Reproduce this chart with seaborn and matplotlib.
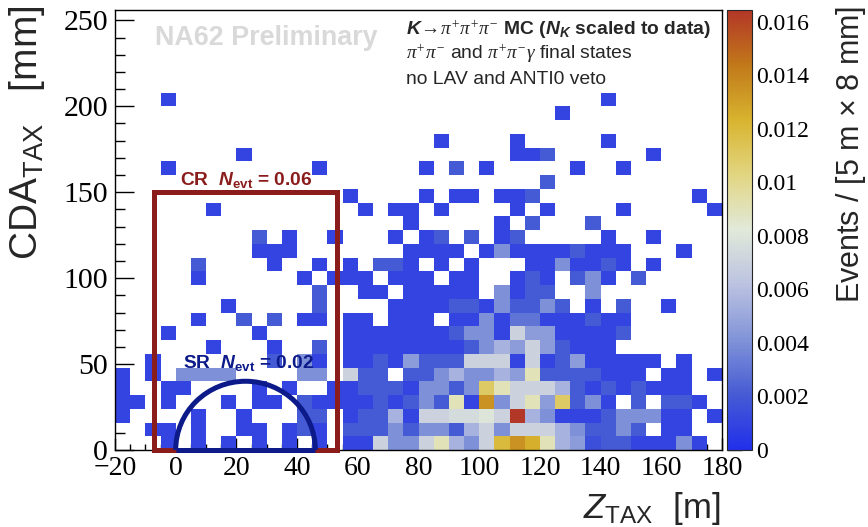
import numpy as np
import pandas as pd
import seaborn as sns
import matplotlib.pyplot as plt
import matplotlib.ticker as ticker
from matplotlib.colors import LinearSegmentedColormap
from matplotlib.patches import Rectangle, Arc

# bin contents, units of 1e-4 events; row index = CDA bin (8 mm) from 0, column = Z bin (5 m) from -20 m
w_rows = [
    [0,0,0,10,0,10,0,10,0,10,0,10,0,10,0,10,10,70,40,40,70,90,55,40,70,120,135,125,90,55,45,15,20,20,10,10,10,40,10,0],
    [0,0,10,10,0,10,0,0,10,10,0,10,20,10,0,20,20,20,40,20,40,40,20,55,70,40,70,70,70,55,40,20,20,40,20,0,10,10,0,0],
    [10,0,0,0,0,10,0,0,10,0,0,0,20,20,0,10,20,20,55,10,70,70,75,75,80,70,164,55,40,10,10,10,20,40,40,40,10,10,0,10],
    [10,10,0,10,0,0,0,10,0,10,10,0,20,10,10,10,10,20,10,20,40,20,90,10,135,40,70,90,45,110,20,40,10,0,20,0,20,20,10,0],
    [10,0,0,10,10,0,0,0,0,10,0,10,0,0,10,10,20,20,20,10,40,40,20,40,110,90,70,70,70,55,20,10,20,10,20,10,10,10,0,0],
    [10,0,10,0,40,40,40,40,0,0,0,0,40,40,0,70,20,20,0,20,20,40,55,40,40,55,45,90,20,20,20,20,10,10,10,0,10,10,0,10],
    [0,0,10,0,0,0,0,0,0,0,20,0,40,10,0,10,10,20,10,45,20,20,20,70,70,70,10,70,10,20,45,10,10,10,10,10,0,10,0,0],
    [0,0,0,0,0,0,10,0,0,0,10,0,0,20,0,10,10,10,10,10,10,10,10,20,40,55,45,70,45,20,10,10,10,0,0,0,0,0,0,0],
    [0,0,0,10,0,0,0,0,0,10,0,0,0,0,0,10,10,10,10,10,10,10,20,40,40,10,70,45,45,10,10,10,10,20,0,0,0,0,0,0],
    [0,0,0,0,0,10,0,0,20,0,20,0,10,10,0,10,10,0,10,10,10,0,10,10,40,10,30,30,10,10,10,20,10,10,0,0,0,0,0,0],
    [0,0,0,0,0,0,0,10,0,0,0,0,0,20,0,0,0,0,10,10,10,10,20,20,10,40,20,20,40,20,0,10,0,20,0,0,10,0,0,0],
    [0,0,0,0,0,0,0,0,0,0,0,0,0,20,0,0,10,10,0,10,10,10,10,10,0,40,10,20,20,0,0,40,0,0,0,0,0,0,0,0],
    [0,0,0,0,0,10,0,0,0,0,0,0,10,0,10,10,10,0,10,10,10,0,10,10,0,0,10,20,10,0,20,40,10,0,20,0,0,0,0,0],
    [0,0,0,0,0,20,0,0,0,0,10,0,0,10,0,10,0,20,20,10,0,10,0,10,0,0,0,10,10,40,10,10,20,10,0,10,0,0,0,0],
    [0,0,0,0,0,0,0,0,0,10,10,10,0,0,0,0,0,0,0,10,10,10,10,0,10,40,10,10,10,10,20,10,10,10,0,0,0,10,0,0],
    [0,0,0,0,0,0,0,0,0,20,0,10,0,0,10,0,0,0,10,0,10,20,0,20,0,10,20,0,0,0,0,0,10,0,0,10,0,0,0,0],
    [0,0,0,0,0,0,0,0,0,0,0,0,0,0,0,0,0,0,0,10,0,0,0,0,0,10,0,20,0,0,0,20,0,0,0,0,0,0,0,0],
    [0,0,0,0,0,0,10,0,0,0,0,0,0,0,0,0,10,0,10,10,0,10,0,0,0,0,10,0,10,0,0,0,0,10,0,0,0,0,0,10],
    [0,0,0,0,0,0,0,0,0,0,0,0,0,0,0,10,0,0,0,0,10,0,10,10,0,10,10,20,0,0,0,0,0,0,0,0,0,0,10,0],
    [0,0,0,0,0,0,0,0,0,0,0,0,0,0,0,0,0,0,0,0,0,0,0,0,0,0,0,0,20,0,0,0,0,0,0,0,0,0,0,0],
    [0,0,0,10,0,0,0,0,0,0,0,0,0,10,0,0,0,0,0,0,10,0,20,0,10,0,0,0,0,0,10,0,0,10,0,0,0,0,0,0],
    [0,0,0,0,0,0,0,0,10,0,0,0,0,0,0,0,0,0,0,0,0,0,0,0,0,0,10,10,20,0,0,0,0,0,0,10,0,0,0,0],
    [0,0,0,0,0,0,0,0,0,0,0,0,0,0,0,0,0,0,0,0,0,10,0,0,0,0,10,0,0,0,0,0,10,0,0,0,0,0,0,0],
    [0]*40,
    [0,0,0,0,0,0,0,0,0,0,0,0,0,0,0,0,0,0,0,0,0,0,0,0,0,0,0,0,0,10,0,0,0,0,0,0,0,0,0,0],
    [0,0,0,10,0,0,0,0,0,0,0,0,0,0,0,0,0,0,0,0,0,0,0,0,0,0,0,0,0,0,0,0,10,0,0,0,0,0,0,0],
    [0]*40, [0]*40, [0]*40, [0]*40, [0]*40, [0]*40,
]
z_low, z_width = -20, 5
cda_width = 8
z_max, cda_max = 180, 256
w_max = 0.01644
cbar_ticks = [0, 0.002, 0.004, 0.006, 0.008, 0.01, 0.012, 0.014, 0.016]

# ROOT kTemperatureMap
temp_colors = [(34, 48, 234), (70, 91, 212), (129, 147, 216), (187, 194, 225), (225, 233, 218),
               (226, 214, 130), (216, 180, 47), (193, 121, 26), (179, 55, 39)]
cmap = LinearSegmentedColormap.from_list('temp', [tuple(c / 255 for c in rgb) for rgb in temp_colors])

recs = []
for j, row in enumerate(w_rows):
    for i, w in enumerate(row):
        if w > 0:
            recs.append((z_low + z_width * (i + 0.5), cda_width * (j + 0.5), w * 1e-4))
df = pd.DataFrame(recs, columns=['z', 'cda', 'w'])

sns.set_style('ticks')
plt.rcParams['font.family'] = ['Liberation Serif', 'DejaVu Serif']
plt.rcParams['mathtext.fontset'] = 'custom'
plt.rcParams['mathtext.rm'] = 'Liberation Sans'
plt.rcParams['mathtext.it'] = 'Liberation Sans:italic'
plt.rcParams['mathtext.bf'] = 'Liberation Sans:bold'
plt.rcParams['mathtext.bfit'] = 'Liberation Sans:italic:bold'
plt.rcParams['mathtext.sf'] = 'Liberation Serif:italic'
plt.rcParams['axes.unicode_minus'] = True

W, H = 868, 527
fig = plt.figure(figsize=(W / 100, H / 100), dpi=100)
ax = fig.add_axes([115 / W, 1 - 450 / H, (722 - 115) / W, 440 / H])
cax = fig.add_axes([727 / W, 1 - 450 / H, 25 / W, 440 / H])

sns.histplot(data=df, x='z', y='cda', weights='w', binwidth=(z_width, cda_width),
             binrange=((z_low, z_max), (0, cda_max)), cmap=cmap, vmin=0, vmax=w_max,
             cbar=True, cbar_ax=cax, ax=ax)

ax.set_xlim(z_low, z_max)
ax.set_ylim(0, cda_max)
ax.set_xlabel('')
ax.set_ylabel('')
ax.xaxis.set_major_locator(ticker.MultipleLocator(20))
ax.xaxis.set_minor_locator(ticker.MultipleLocator(5))
ax.yaxis.set_major_locator(ticker.MultipleLocator(50))
ax.yaxis.set_minor_locator(ticker.MultipleLocator(10))
ax.tick_params(axis='both', which='both', direction='in', top=False, right=False,
               colors='black', width=1)
ax.tick_params(axis='y', which='major', length=14, pad=5, labelsize=21.5)
ax.tick_params(axis='y', which='minor', length=7)
ax.tick_params(axis='x', which='major', length=9, pad=4, labelsize=20)
ax.tick_params(axis='x', which='minor', length=4.5)
for s in ax.spines.values():
    s.set_linewidth(1)
    s.set_color('black')

# control region box and signal region half-ellipse
cr_col = '#8b1c1c'
sr_col = '#0c1a8a'
ax.add_patch(Rectangle((-7, 0), 60, 150, fill=False, ec=cr_col, lw=3.6, zorder=5, clip_on=False))
ax.add_patch(Arc((23, 0), 46, 80, theta1=0, theta2=180, color=sr_col, lw=3.6, zorder=5))
ax.plot([0, 46], [0, 0], color=sr_col, lw=3.6, zorder=5, clip_on=False, solid_capstyle='butt')

ax.text(1.4, 154, r'CR  $\mathbfit{N}_{\mathbf{evt}}$ = 0.06', color=cr_col, fontsize=13.8,
        fontweight='bold', family='Liberation Sans', zorder=6)
ax.text(2.4, 47.5, r'SR  $\mathbfit{N}_{\mathbf{evt}}$ = 0.02', color=sr_col, fontsize=13.8,
        fontweight='bold', family='Liberation Sans', zorder=6)

fig.text(155 / W, 1 - 45 / H, 'NA62 Preliminary', color='#d9d9d9', fontsize=19.4,
         fontweight='bold', family='Liberation Sans')
fig.text(406 / W, 1 - 35 / H,
         r'$\mathbfit{K}\!\rightarrow\!\mathsf{\pi^{+}\pi^{+}\pi^{-}}$ MC ($\mathbfit{N}_{\mathbfit{K}}$ scaled to data)',
         fontsize=13.9, fontweight='bold', family='Liberation Sans')
fig.text(406 / W, 1 - 59 / H, r'$\mathsf{\pi^{+}\pi^{-}}$ and $\mathsf{\pi^{+}\pi^{-}\gamma}$ final states',
         fontsize=13.9, family='Liberation Sans')
fig.text(406 / W, 1 - 84 / H, 'no LAV and ANTI0 veto', fontsize=13.9, family='Liberation Sans')

fig.text(27 / W, 1 - 6 / H, r'CDA$_{\mathrm{TAX}}$   [mm]', rotation=90, ha='center', va='top',
         fontsize=28, family='Liberation Sans')
fig.text(720 / W, 1 - 518 / H, r'$\mathit{Z}_{\mathrm{TAX}}$  [m]', ha='right', va='baseline',
         fontsize=25, family='Liberation Sans')
fig.text(851 / W, 1 - 6 / H, r'Events / [5 m $\times$ 8 mm]', rotation=90, ha='center', va='top',
         fontsize=22, family='Liberation Sans')

cax.yaxis.set_major_locator(ticker.FixedLocator(cbar_ticks))
cax.yaxis.set_major_formatter(ticker.FuncFormatter(lambda v, _: f'{v:g}'))
cax.yaxis.set_minor_locator(ticker.NullLocator())
cax.yaxis.set_ticks_position('left')
cax.tick_params(axis='y', left=True, right=False, labelleft=False, labelright=True,
                direction='in', length=11, width=1, labelsize=17, pad=3, colors='black')

fig.savefig('out.png', dpi=100)
